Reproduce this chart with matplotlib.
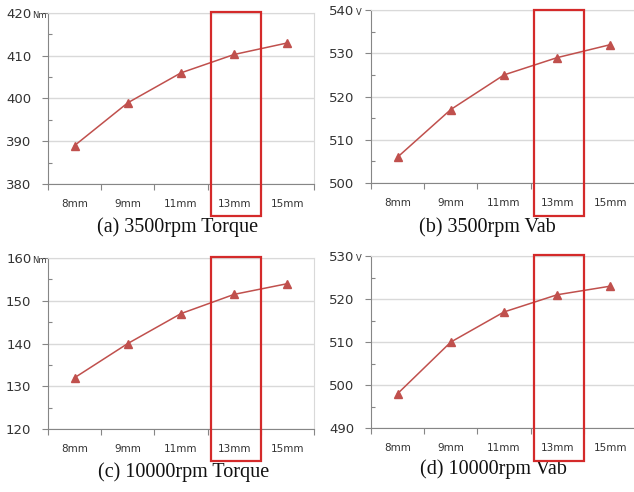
import matplotlib.pyplot as plt
import matplotlib.transforms as mtransforms
from matplotlib.patches import Rectangle
from matplotlib.ticker import MultipleLocator

gaps = ['8mm', '9mm', '11mm', '13mm', '15mm']
torque_3500 = [389, 399, 406, 410.3, 413]
vab_3500 = [506, 517, 525, 529, 532]
torque_10000 = [132, 140, 147, 151.5, 154]
vab_10000 = [498, 510, 517, 521, 523]
highlight = 3  # 13mm

panels = [
    # values, ylim, unit, caption, axes rect, caption pos, box y range (figure fraction)
    (torque_3500, (380, 420), 'Nm', '(a) 3500rpm Torque',
     [0.0757, 0.626, 0.4196, 0.3476], (0.280, 0.5285), (0.561, 0.9756)),
    (vab_3500, (500, 540), 'V', '(b) 3500rpm Vab',
     [0.5852, 0.628, 0.4196, 0.3516], (0.768, 0.5285), (0.561, 0.980)),
    (torque_10000, (120, 160), 'Nm', '(c) 10000rpm Torque',
     [0.0757, 0.128, 0.4196, 0.3476], (0.290, 0.0305), (0.063, 0.4776)),
    (vab_10000, (490, 530), 'V', '(d) 10000rpm Vab',
     [0.5852, 0.130, 0.4196, 0.3496], (0.779, 0.037), (0.063, 0.4817)),
]

line_color = '#C0504D'
axis_color = '#868686'
grid_color = '#D9D9D9'
text_color = '#333333'


def draw_panel(fig, values, ylim, unit, caption, rect, cap_pos, box_y):
    ax = fig.add_axes(rect)
    x = list(range(len(gaps)))
    ax.plot(x, values, color=line_color, lw=1.1, marker='^', ms=5.5,
            mec=line_color, mfc=line_color, zorder=3)

    ax.set_xlim(-0.5, len(gaps) - 0.5)
    ax.set_ylim(*ylim)
    ax.set_xticks(x)
    ax.set_xticklabels(gaps, fontsize=7.5, color=text_color)
    ax.set_xticks([i - 0.5 for i in range(len(gaps) + 1)], minor=True)
    ax.tick_params(axis='x', which='major', length=0, pad=11)
    ax.tick_params(axis='x', which='minor', length=4, direction='out',
                   color=axis_color, width=0.8)

    ax.yaxis.set_major_locator(MultipleLocator(10))
    ax.yaxis.set_minor_locator(MultipleLocator(5))
    ax.tick_params(axis='y', which='major', length=4, direction='out',
                   color=axis_color, width=0.8, labelsize=9.5,
                   labelcolor=text_color, pad=8)
    ax.tick_params(axis='y', which='minor', length=3, direction='in',
                   color=axis_color, width=0.8)

    ax.grid(axis='y', which='major', color=grid_color, lw=1.0, zorder=0)
    ax.set_axisbelow(True)
    ax.spines['left'].set_color(axis_color)
    ax.spines['bottom'].set_color(axis_color)
    ax.spines['right'].set_color(grid_color)
    ax.spines['top'].set_color(grid_color)

    ax.text(-0.058, 0.985, unit, transform=ax.transAxes, fontsize=6,
            color=text_color, ha='left', va='center')

    trans = mtransforms.blended_transform_factory(ax.transData, fig.transFigure)
    box = Rectangle((highlight - 0.44, box_y[0]), 0.94, box_y[1] - box_y[0],
                    transform=trans, fill=False, ec='#D42A2A', lw=1.6,
                    clip_on=False, zorder=5)
    fig.patches.append(box)

    fig.text(cap_pos[0], cap_pos[1], caption, ha='center', va='baseline',
             fontsize=14.5, family='Liberation Serif', color='#111111')


def main():
    fig = plt.figure(figsize=(6.34, 4.92), dpi=100)
    for p in panels:
        draw_panel(fig, *p)
    fig.savefig('out.png', dpi=100)


if __name__ == '__main__':
    main()
